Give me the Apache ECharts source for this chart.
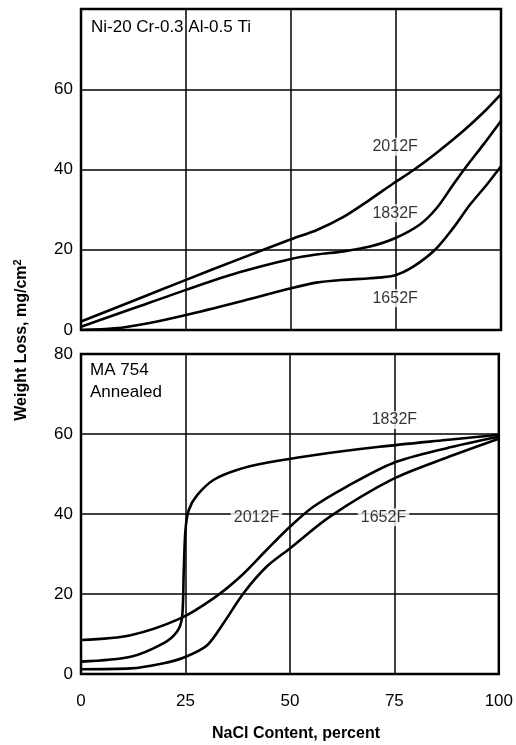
<!DOCTYPE html>
<html><head><meta charset="utf-8">
<script src="https://cdn.jsdelivr.net/npm/echarts@6/dist/echarts.min.js"></script>
<style>html,body{margin:0;padding:0;background:#fff}#c{width:516px;height:745px}</style>
</head><body><div id="c"></div>
<script>
// ---- data (x = NaCl content %, y = weight loss mg/cm2) ----
const xTicks = [0, 25, 50, 75, 100];
const yTicks = [0, 20, 40, 60, 80];

// Top panel: Ni-20 Cr-0.3 Al-0.5 Ti
const top2012 = [[0,2.1],[12.5,7.3],[25,12.5],[37.5,17.6],[50,22.6],[56.3,25],[62.5,28.2],[68.8,32.5],[74.6,36.7],[79.1,39.8],[84.7,44.2],[91,49.6],[95.8,54.2],[100,58.8]];
const top1832 = [[0,0.8],[12.5,5.4],[25,10],[37.5,14.3],[50,17.7],[56,18.8],[62.5,19.6],[68.8,20.8],[74.6,22.8],[80.7,26.3],[84.7,30.4],[88.6,36.2],[91.8,40.8],[95.8,46.2],[100,52.1]];
const top1652 = [[0,0],[8,0.4],[16,1.7],[25,3.75],[37.5,7],[50,10.4],[56,11.8],[62.5,12.5],[68.8,12.9],[74.6,13.6],[79.1,15.8],[84.3,20],[88.6,25.4],[92.6,31.2],[96.6,36.2],[100,40.8]];

// Bottom panel: MA 754 Annealed
const bot1832 = [[0,3.1],[11.9,4.3],[19.8,7.7],[23,10.6],[24.2,14.3],[24.6,26],[25,36],[25.8,41],[27.8,44.7],[31.7,48.5],[37.3,51],[44.4,52.8],[55.6,54.7],[71.4,56.8],[87.3,58.5],[100,59.8]];
const bot2012 = [[0,8.5],[11.9,9.7],[23.8,13.9],[31.7,18.9],[38.1,24.3],[44.4,31],[50,36.8],[55.6,41.8],[63.5,46.8],[74.6,52.7],[87.3,56.4],[100,59.3]];
const bot1652 = [[0,1.2],[11.9,1.4],[19.8,2.7],[24.8,4.2],[30.2,7.2],[34.1,12.7],[38.9,20.2],[44.4,26.8],[50,31.4],[59.5,39.3],[74.6,48.7],[87.3,54],[100,58.8]];

// curve labels [x, y, text]
const topLabels = [[74.8,45.7,'2012F'],[74.8,29.1,'1832F'],[74.8,7.9,'1652F']];
const botLabels = [[75,63.5,'1832F'],[42,39.2,'2012F'],[72.4,39.2,'1652F']];

const panelTitleTop = 'Ni-20 Cr-0.3 Al-0.5 Ti';
const panelTitleBot = ['MA 754', 'Annealed'];
const xTitle = 'NaCl Content, percent';
const yTitle = 'Weight Loss, mg/cm';

// ---- chart ----
const SANS = "'Liberation Sans',Arial,sans-serif";
const chart = echarts.init(document.getElementById('c'), null, {renderer:'canvas'});

function xAxis(i, showLabels){
  return {gridIndex:i, type:'value', min:xTicks[0], max:xTicks[xTicks.length-1], interval:25,
    axisLine:{show:false}, axisTick:{show:false},
    splitLine:{show:true, lineStyle:{color:'#000', width:1.5}},
    axisLabel:{show:showLabels, color:'#000', fontFamily:SANS, fontSize:17, margin:19}};
}
function yAxis(i, hideTop){
  return {gridIndex:i, type:'value', min:yTicks[0], max:yTicks[yTicks.length-1], interval:20,
    axisLine:{show:false}, axisTick:{show:false},
    splitLine:{show:true, lineStyle:{color:'#000', width:1.5}},
    axisLabel:{color:'#000', fontFamily:SANS, fontSize:17, margin:8,
      formatter: v => (hideTop && v === 80) ? '' : String(v)}};
}
function curve(data, xi, yi){
  return {type:'line', xAxisIndex:xi, yAxisIndex:yi, data:data, smooth:0.3,
    showSymbol:false, symbol:'none', lineStyle:{color:'#000', width:2.6}, z:3, silent:true};
}
function labels(data, xi, yi){
  return {type:'scatter', xAxisIndex:xi, yAxisIndex:yi, data:data, symbolSize:0, z:5, silent:true,
    label:{show:true, position:'inside', formatter: p => p.value[2], color:'#000',
      fontFamily:SANS, fontSize:16, backgroundColor:'#fff', padding:[1,3]}};
}

chart.setOption({
  animation:false,
  backgroundColor:'#fff',
  grid:[
    {left:81, top:9, width:420, height:321, show:true, borderColor:'#000', borderWidth:2.5, backgroundColor:'transparent'},
    {left:81, top:354, width:420, height:320, show:true, borderColor:'#000', borderWidth:2.5, backgroundColor:'transparent'}
  ],
  xAxis:[xAxis(0,false), xAxis(1,true)],
  yAxis:[yAxis(0,true), yAxis(1,false)],
  series:[
    curve(top2012,0,0), curve(top1832,0,0), curve(top1652,0,0),
    curve(bot1832,1,1), curve(bot2012,1,1), curve(bot1652,1,1),
    labels(topLabels,0,0), labels(botLabels,1,1)
  ],
  graphic:[
    {type:'text', left:91, top:19, z:10, style:{text:panelTitleTop, fontFamily:SANS, fontSize:17, fill:'#000'}},
    {type:'text', left:90, top:359, z:10, style:{text:panelTitleBot.join('\n'), fontFamily:SANS, fontSize:17, lineHeight:22, fill:'#000'}},
    {type:'text', x:296, y:734, z:10, style:{text:xTitle, fontFamily:SANS, fontWeight:'bold', fontSize:16, fill:'#000', align:'center', verticalAlign:'middle'}},
    {type:'text', x:22, y:340, rotation:Math.PI/2, z:10, style:{text:'{a|'+yTitle+'}{s|2}', align:'center', verticalAlign:'middle',
      rich:{a:{fontFamily:SANS, fontWeight:'bold', fontSize:16, fill:'#000'},
            s:{fontFamily:SANS, fontWeight:'bold', fontSize:11, fill:'#000', padding:[0,0,8,0]}}}}
  ]
});
</script></body></html>
